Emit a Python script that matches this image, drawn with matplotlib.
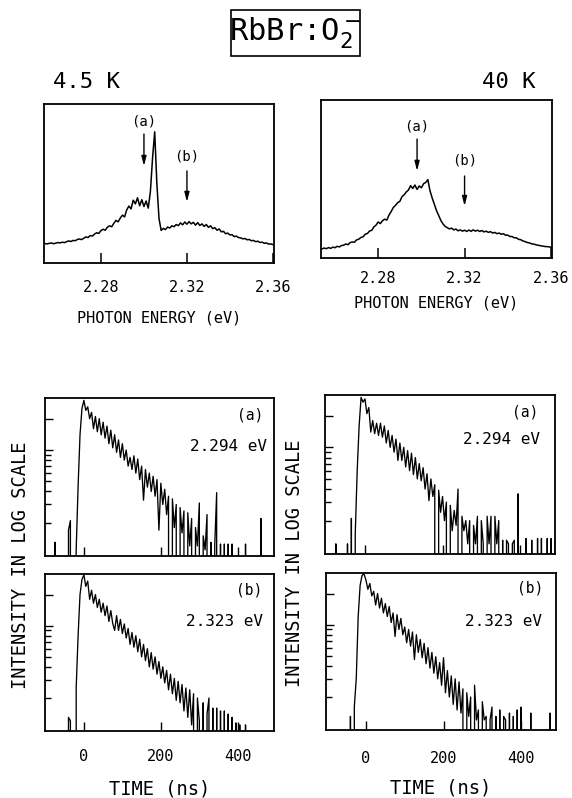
# RbBr:O2- の発光スペクトル (上段) と発光減衰 (下段)  4.5 K / 40 K
# > python plot.py  ->  out.png

import numpy as np
from matplotlib import pyplot as plt
from matplotlib.patches import Rectangle

plt.rcParams['font.family'] = ['DejaVu Sans Mono', 'DejaVu Sans']

# 図のサイズ (px)
W, H = 572, 798

# ================ スペクトル (任意単位) ================
# 2.254 eV から 0.001 eV ごとのチャンネル
energy = np.linspace(2.254, 2.360, 107)

spec_45K = [
    12.2, 12.0, 12.4, 12.6, 12.1, 12.5, 12.9, 12.6, 13.1, 12.8,
    13.4, 13.9, 13.5, 14.2, 14.0, 14.8, 15.1, 14.7, 15.6, 16.4,
    16.0, 17.3, 16.9, 18.2, 19.0, 18.6, 20.4, 21.2, 20.6, 22.5,
    23.4, 22.8, 25.0, 26.8, 25.9, 28.3, 30.1, 29.0, 33.5, 35.8,
    34.0, 39.5, 37.2, 41.0, 36.0, 39.8, 35.5, 39.0, 34.5, 45.0,
    66.0, 82.5, 50.0, 28.0, 20.5, 21.8, 21.0, 22.6, 22.0, 23.4,
    22.8, 24.2, 23.5, 25.2, 24.0, 25.8, 24.4, 26.0, 24.6, 25.6,
    23.8, 25.4, 23.6, 24.6, 23.0, 24.2, 22.4, 23.4, 21.6, 22.2,
    20.6, 21.4, 19.6, 19.9, 18.4, 18.8, 17.6, 17.8, 16.6, 16.9,
    16.0, 15.8, 15.2, 15.4, 14.6, 14.8, 14.0, 14.2, 13.4, 13.7,
    12.9, 13.1, 12.4, 12.6, 11.9, 12.0, 11.6,
]

spec_40K = [
    5.8, 6.3, 5.9, 6.6, 6.1, 6.9, 6.5, 7.4, 7.0, 7.9,
    8.1, 8.9, 8.4, 9.8, 10.1, 10.0, 11.5, 11.9, 13.0, 13.4,
    15.1, 15.5, 17.1, 17.5, 19.7, 20.8, 22.8, 21.8, 23.6, 24.6,
    24.0, 27.2, 29.4, 32.0, 33.3, 35.0, 35.8, 38.8, 40.0, 41.8,
    43.0, 45.8, 44.0, 46.2, 43.4, 45.6, 44.4, 47.0, 47.8, 49.6,
    42.5, 38.0, 34.0, 30.0, 27.0, 23.8, 21.6, 20.0, 19.2, 18.4,
    18.9, 17.8, 18.3, 17.2, 17.8, 17.0, 17.6, 16.8, 17.7, 16.9,
    17.8, 17.0, 17.6, 16.8, 17.4, 16.5, 17.0, 16.2, 16.7, 15.8,
    16.2, 15.4, 15.8, 15.0, 15.4, 14.4, 14.5, 13.6, 13.6, 12.8,
    12.8, 11.8, 11.6, 10.8, 10.4, 9.8, 9.6, 9.0, 8.8, 8.4,
    8.1, 7.8, 7.6, 7.3, 7.2, 7.1, 6.8,
]

# 矢印 (a), (b) の位置 [eV]
marks_45K = [2.300, 2.320]
marks_40K = [2.298, 2.320]

# ================ 減衰曲線 (log) ================
# -100 ns から 5 ns ごと、0 はカウントなし
time_ns = np.arange(-100, 495, 5)

decay_45K_a = [
    0, 0, 0, 0, 0, 1.3, 0, 0, 0, 0,
    0, 0, 1.7, 2.1, 0, 0, 1.1, 4.5, 14, 25,
    30, 24, 26, 20, 23, 16, 21, 15, 20, 14,
    18.5, 13, 17, 11.5, 15.5, 10.5, 14, 9.5, 12.5, 8.5,
    11.5, 8, 10, 7, 8.5, 6.5, 8.8, 6.0, 8.2, 5.2,
    7.0, 3.3, 6.5, 4.4, 6.0, 4.0, 5.6, 3.6, 5.2, 1.7,
    4.8, 3.0, 4.2, 2.4, 3.6, 0, 3.4, 1.8, 3.0, 0,
    2.8, 1.6, 2.6, 0, 2.5, 1.2, 2.2, 0, 1.8, 1.2,
    3.1, 0, 1.5, 1.1, 2.4, 0, 1.3, 0, 1.2, 3.9,
    0, 1.25, 0, 1.25, 0, 1.25, 0, 1.25, 0, 0,
    0, 0, 0, 0, 1.25, 0, 0, 0, 0, 0,
    0, 0, 2.2, 0, 0, 0, 0, 0, 0,
]

decay_45K_b = [
    0, 0, 0, 0, 0, 0, 0, 0, 0, 0,
    0, 0, 1.3, 1.2, 0, 0, 2.5, 8, 20, 28,
    31, 24, 27, 18, 22, 16.5, 20, 15, 18, 13.5,
    16.5, 12.5, 15.5, 11, 14, 10.5, 9.0, 12.5, 9.0, 11.5,
    8.4, 10.4, 7.6, 9.4, 6.6, 8.6, 6.2, 8.0, 5.6, 7.4,
    5.0, 6.6, 4.6, 6.0, 4.0, 5.5, 3.8, 5.0, 3.4, 4.5,
    3.1, 4.0, 2.8, 3.7, 2.4, 3.4, 2.2, 3.1, 1.9, 2.9,
    1.8, 2.7, 1.5, 2.5, 1.3, 2.4, 1.1, 2.2, 0, 2.0,
    1.2, 0, 1.8, 0, 1.4, 2.0, 0, 1.6, 0, 1.6,
    0, 1.5, 0, 1.5, 0, 1.4, 0, 1.3, 0, 1.15,
    0, 1.1, 0, 0, 1.1, 0, 0, 0, 0, 0,
    0, 0, 0, 0, 0, 0, 0, 0, 0,
]

decay_40K_a = [
    0, 0, 0, 0, 0, 1.2, 0, 0, 0, 0,
    0, 1.2, 0, 2.1, 0, 1.5, 6, 16, 30, 27,
    29, 21, 24, 14, 18, 13.5, 17, 13, 17, 12.5,
    16, 11, 14.5, 10, 13, 9, 12, 7.5, 11, 7.5,
    10, 6.5, 9.3, 6, 8.8, 5.5, 8, 5.0, 7, 4.8,
    6.4, 4.0, 5.6, 3.1, 5.0, 3.4, 4.4, 0, 3.9, 2.4,
    3.4, 2.0, 3.0, 0, 2.8, 1.6, 2.5, 1.8, 4.0, 0,
    2.2, 1.6, 2.0, 1.2, 2.0, 0, 1.8, 1.2, 2.2, 0,
    2.0, 1.2, 0, 2.2, 1.2, 2.2, 0, 2.2, 1.2, 2.0,
    0, 1.3, 0, 1.3, 1.2, 0, 1.2, 1.3, 0, 3.6,
    0, 0, 0, 1.35, 0, 0, 1.3, 0, 0, 1.35,
    0, 1.35, 0, 0, 1.35, 0, 1.35, 0, 1.3,
]

decay_40K_b = [
    0, 0, 0, 0, 0, 0, 0, 0, 0, 0,
    0, 0, 1.3, 0, 1.6, 3, 12, 24, 30, 31,
    27, 22, 25, 19, 21, 15.5, 20, 14.5, 18, 13,
    16, 12, 15, 10.5, 13, 7.7, 12.5, 9, 11.5, 8,
    9.5, 6.7, 9.0, 6.2, 8.5, 4.6, 8.0, 5.4, 7.2, 4.8,
    6.6, 4.2, 6.0, 3.8, 5.4, 3.4, 4.9, 3.0, 4.3, 2.6,
    4.8, 2.2, 3.6, 2.0, 3.2, 1.7, 3.0, 1.5, 2.8, 1.4,
    2.4, 0, 2.2, 1.3, 2.0, 0, 2.6, 1.2, 1.5, 0,
    1.8, 1.2, 1.3, 0, 1.2, 1.6, 0, 1.3, 0, 1.5,
    0, 1.3, 1.2, 0, 1.4, 0, 1.3, 0, 1.5, 0,
    1.6, 0, 0, 0, 0, 1.4, 0, 0, 0, 0,
    0, 0, 0, 0, 0, 1.4, 0, 0, 0,
]


fig = plt.figure(figsize=(W / 100, H / 100), dpi=100)


def px_axes(x0, y0, x1, y1):
    # ピクセルの枠 (左上, 右下) から axes を作る
    ax = fig.add_axes([x0 / W, 1 - y1 / H, (x1 - x0) / W, (y1 - y0) / H])
    for sp in ax.spines.values():
        sp.set_linewidth(1.3)
    return ax


def draw_spectrum(ax, values, marks, arrows, tick_pad, label_y):
    ax.plot(energy, values, color='k', lw=1.1)
    ax.set_xlim(2.2535, 2.3605)
    ax.set_ylim(0, 100)
    ax.set_xticks([2.28, 2.32, 2.36])
    ax.set_xticklabels(['2.28', '2.32', '2.36'])
    ax.set_yticks([])
    ax.tick_params(axis='x', direction='in', length=7, width=1.1,
                   pad=tick_pad, labelsize=11)
    ax.set_xlabel('PHOTON ENERGY (eV)', fontsize=11)
    ax.xaxis.set_label_coords(0.5, label_y)
    # 矢印とラベル (text_y, tail_y, tip_y)
    for e, name, (ty, y0, y1) in zip(marks, ['(a)', '(b)'], arrows):
        ax.text(e, ty, name, ha='center', va='center', fontsize=10)
        ax.annotate('', xy=(e, y1), xytext=(e, y0),
                    arrowprops=dict(arrowstyle='-|>,head_length=0.7,head_width=0.18',
                                    color='k', lw=1.0, mutation_scale=8,
                                    shrinkA=0, shrinkB=0))


def draw_decay(ax, values, xlim, tag, etext, tag_xy, etext_xy, labels, tick_pad):
    ax.plot(time_ns, values, color='k', lw=0.95)
    ax.set_yscale('log', nonpositive='clip')
    ax.set_ylim(0.96, 31.6)
    ax.set_xlim(xlim)
    ax.set_xticks([0, 200, 400])
    ax.set_yticks([10, 20])
    ax.set_yticks([2, 3, 4, 5, 6, 7, 8, 9], minor=True)
    ax.tick_params(axis='y', which='both', labelleft=False, direction='in', width=1)
    ax.tick_params(axis='y', which='major', length=6)
    ax.tick_params(axis='y', which='minor', length=4)
    ax.tick_params(axis='x', which='both', direction='in', length=6.5, width=1,
                   pad=tick_pad, labelsize=11, labelbottom=labels)
    ax.tick_params(axis='x', which='minor', length=0)
    ax.text(tag_xy[0], tag_xy[1], tag, transform=ax.transAxes,
            ha='right', va='center', fontsize=10.5)
    ax.text(etext_xy[0], etext_xy[1], etext, transform=ax.transAxes,
            ha='right', va='center', fontsize=11.5)


# ---- タイトル ----
fig.patches.append(Rectangle((231 / W, 1 - 56 / H), 129 / W, 46 / H,
                             transform=fig.transFigure, fill=False, lw=1.2, color='k'))
fig.text(295 / W, 1 - 33 / H, r'RbBr:O$_2^-$', ha='center', va='center', fontsize=22)
fig.text(53 / W, 1 - 82 / H, '4.5 K', ha='left', va='center', fontsize=16)
fig.text(536 / W, 1 - 82 / H, '40 K', ha='right', va='center', fontsize=16)

# ---- スペクトル ----
ax_s1 = px_axes(44, 104, 274, 263)
draw_spectrum(ax_s1, spec_45K, marks_45K,
              [(89.3, 81.1, 61.0), (66.7, 57.9, 38.4)], tick_pad=12.5, label_y=-0.30)

ax_s2 = px_axes(321, 100, 552, 258)
draw_spectrum(ax_s2, spec_40K, marks_40K,
              [(83.5, 75.3, 55.1), (61.4, 51.9, 32.9)], tick_pad=9.5, label_y=-0.24)

# ---- 減衰曲線 ----
ax_la = px_axes(45, 398, 274, 556)
draw_decay(ax_la, decay_45K_a, (-101, 494), '(a)', '2.294 eV',
           (0.952, 0.892), (0.969, 0.696), False, 13)

ax_lb = px_axes(45, 574, 274, 731)
draw_decay(ax_lb, decay_45K_b, (-101, 494), '(b)', '2.323 eV',
           (0.948, 0.898), (0.952, 0.700), True, 13)
ax_lb.set_xlabel('TIME (ns)', fontsize=13.5)
ax_lb.xaxis.set_label_coords(0.5, -0.306)

ax_ra = px_axes(325, 395, 555, 554)
draw_decay(ax_ra, decay_40K_a, (-103, 490), '(a)', '2.294 eV',
           (0.926, 0.893), (0.935, 0.717), False, 15)

ax_rb = px_axes(326, 573, 556, 730)
draw_decay(ax_rb, decay_40K_b, (-103, 490), '(b)', '2.323 eV',
           (0.943, 0.904), (0.939, 0.694), True, 15)
ax_rb.set_xlabel('TIME (ns)', fontsize=13.5)
ax_rb.xaxis.set_label_coords(0.5, -0.312)

# 縦軸ラベル (上下 2 枚共通)
fig.text(21 / W, 1 - 565 / H, 'INTENSITY IN LOG SCALE', rotation=90,
         ha='center', va='center', fontsize=13.5)
fig.text(295 / W, 1 - 563 / H, 'INTENSITY IN LOG SCALE', rotation=90,
         ha='center', va='center', fontsize=13.5)

fig.savefig('out.png', dpi=100)
